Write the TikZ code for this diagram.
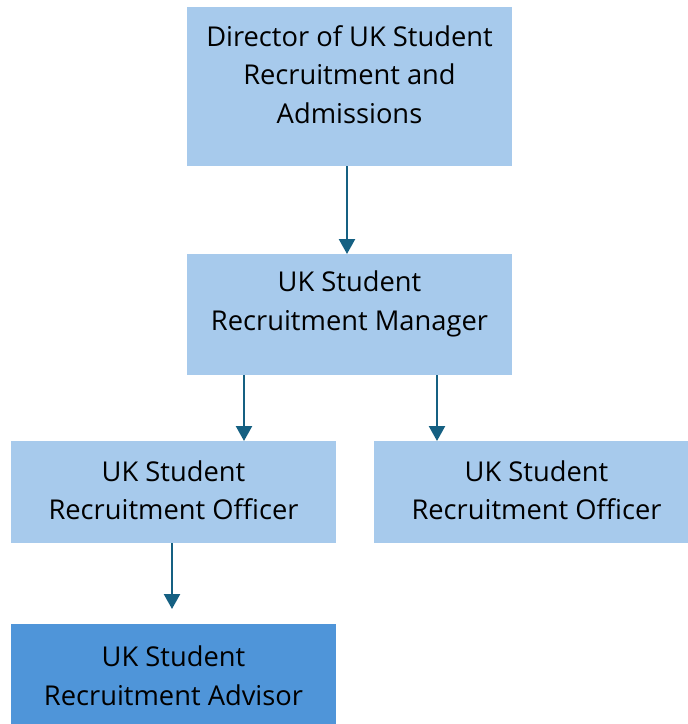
\documentclass[tikz,border=0pt]{standalone}
\usepackage{fontspec}
\setmainfont{Open Sans}[Ligatures=NoCommon]
\usetikzlibrary{arrows.meta}
\definecolor{boxlight}{HTML}{A7CAEC}
\definecolor{boxdark}{HTML}{4F95D9}
\definecolor{arrowc}{HTML}{156082}
\begin{document}
\begin{tikzpicture}[x=1pt,y=-1pt,
  box/.style={rectangle,inner sep=0pt,anchor=north west,minimum width=325pt},
  txt/.style={align=center,inner sep=0pt,font=\fontsize{27.3}{38.5}\selectfont,text=black},
  arr/.style={draw=arrowc,line width=2.4pt,-{Triangle[width=16pt,length=15pt]}}]
\clip (0,0) rectangle (688,724);
\fill[white] (0,0) rectangle (688,724);
\node[box,fill=boxlight,minimum height=159pt] (dir) at (187,7) {};
\node[box,fill=boxlight,minimum height=121pt] (mgr) at (187,254) {};
\node[box,fill=boxlight,minimum height=102pt] (offl) at (11,441) {};
\node[box,fill=boxlight,minimum height=102pt] (offr) at (374,441) {};
\node[box,fill=boxdark,minimum height=102pt] (adv) at (11,624) {};
\node[txt] (tdir) at (349.5,74.5) {Director of UK Student\\Recruitment and\\Admissions};
\node[txt] (tmgr) at (349.5,304) {UK Student\\Recruitment Manager};
\node[txt] (toffl) at (173.5,490.5) {UK Student\\Recruitment Officer};
\node[txt] (toffr) at (536.5,490.5) {UK Student\\Recruitment Officer};
\node[txt] (tadv) at (173.5,676) {UK Student\\Recruitment Advisor};
\coordinate (xa) at (347,0);
\coordinate (xb) at (244,0);
\coordinate (xc) at (437,0);
\coordinate (xd) at (172,0);
\coordinate (advtip) at (172,609);
\draw[arr] (dir.south -| xa) -- (mgr.north -| xa);
\draw[arr] (mgr.south -| xb) -- (offl.north -| xb);
\draw[arr] (mgr.south -| xc) -- (offr.north -| xc);
\draw[arr] (offl.south -| xd) -- (advtip);
\end{tikzpicture}
\end{document}
